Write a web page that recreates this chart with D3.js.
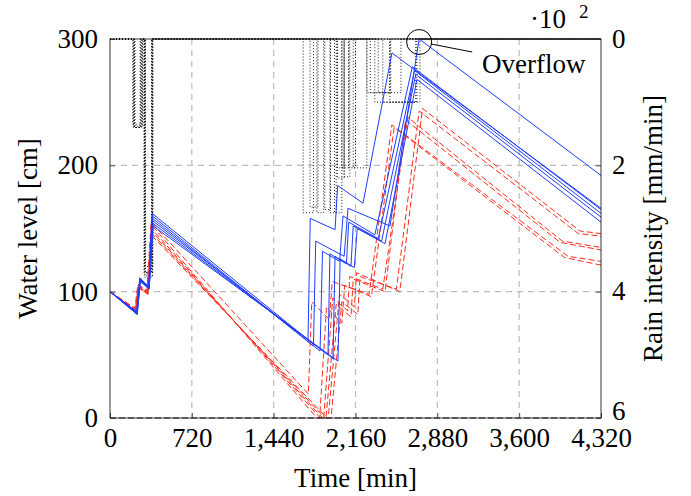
<!DOCTYPE html>
<html>
<head>
<meta charset="utf-8">
<script src="https://cdn.jsdelivr.net/npm/d3@7"></script>
<style>
  body { margin: 0; background: #fff; }
  svg text { font-family: "Liberation Serif", "Times New Roman", "DejaVu Serif", serif; fill: #000; }
</style>
</head>
<body>
<div id="chart"></div>
<script>
// ticks
const timeTicks = [0, 720, 1440, 2160, 2880, 3600, 4320];
const levelTicks = [0, 100, 200, 300];
const rainTicks = [0, 2, 4, 6];

// water level [cm], solid blue runs: [time, level]
const blue1 = [[0,100],[235,84],[262,111],[340,104],[370,162],[1742,62],[1762,158],[1980,149],[2003,184],[2226,170],[2481,289],[4320,166]];
const blue2 = [[0,100],[236,84],[263,110],[341,104],[372,160],[1790,57],[1810,140],[2060,128],[2094,166],[2463,152],[2720,300],[4320,192]];
const blue3 = [[0,100],[237,83],[264,110],[342,103],[374,158],[1848,53],[1870,132],[2020,124],[2050,160],[2330,145],[2660,278],[4320,165]];
const blue4 = [[0,100],[238,83],[265,109],[343,103],[376,156],[1918,50],[1935,130],[2080,122],[2100,155],[2360,142],[2680,275],[4320,162]];
const blue5 = [[0,100],[239,82],[266,109],[344,102],[378,154],[1962,47],[1980,128],[2120,120],[2140,152],[2390,140],[2690,272],[4320,159]];
const blue6 = [[0,100],[240,82],[267,108],[345,102],[380,152],[2006,45],[2025,126],[2150,119],[2175,150],[2420,138],[2700,268],[4320,155]];

// water level [cm], dashed red runs
const red1 = [[0,100],[220,87],[245,106],[325,101],[362,155],[1745,19],[1775,92],[1930,78],[1955,108],[2280,98],[2480,232],[4030,128],[4320,124]];
const red2 = [[0,100],[222,86],[248,105],[328,100],[364,153],[1820,0],[1845,0],[1905,88],[2040,75],[2065,105],[2300,96],[2500,230],[4000,127],[4320,121]];
const red3 = [[0,100],[224,86],[250,104],[330,99],[366,150],[1850,0],[1880,0],[1960,95],[2090,85],[2110,112],[2400,102],[2620,238],[3980,140],[4320,135]];
const red4 = [[0,100],[226,85],[252,104],[332,99],[368,148],[1870,0],[1900,0],[1990,90],[2120,80],[2140,110],[2420,100],[2600,236],[3960,139],[4320,133]];
const red5 = [[0,100],[228,85],[254,103],[334,98],[370,146],[1890,0],[1920,0],[2020,98],[2150,88],[2170,115],[2550,100],[2750,245],[4135,148],[4320,146]];
const red6 = [[0,100],[230,84],[256,103],[336,98],[372,144],[1910,0],[1945,0],[2040,92],[2180,82],[2200,112],[2520,102],[2720,243],[4120,146],[4320,144]];

// rain intensity [1e-2 mm/min], step series: [time, intensity]
const rain1 = [[0,0],[210,1.4],[265,0],[305,3.7],[365,0],[1700,2.75],[1790,0],[2000,2.2],[2060,0],[2260,0.85],[2460,0],[4320,0]];
const rain2 = [[0,0],[205,1.4],[280,0],[300,3.7],[370,0],[1760,2.66],[1830,0],[2040,2.04],[2100,0],[2463,1.0],[2727,0],[4320,0]];
const rain3 = [[0,0],[215,1.4],[270,0],[310,3.75],[372,0],[1820,2.75],[1880,0],[2000,2.04],[2060,0],[2290,0.85],[2470,0],[4320,0]];
const rain4 = [[0,0],[200,1.35],[285,0],[308,3.6],[378,0],[1890,2.7],[1940,0],[2060,2.18],[2110,0],[2330,1.0],[2690,0],[4320,0]];
const rain5 = [[0,0],[220,1.4],[275,0],[312,3.7],[368,0],[1935,2.75],[1990,0],[2100,2.04],[2160,0],[2360,0.85],[2560,0],[4320,0]];
const rain6 = [[0,0],[212,1.38],[290,0],[302,3.77],[375,0],[1975,2.75],[2040,0],[2140,2.04],[2260,0],[2400,1.0],[2700,0],[4320,0]];

const blueRuns = [blue1, blue2, blue3, blue4, blue5, blue6];
const redRuns = [red1, red2, red3, red4, red5, red6];
const rainRuns = [rain1, rain2, rain3, rain4, rain5, rain6];

const width = 691, height = 496;
const margin = { top: 39, left: 110, bottom: 78, right: 90 };
const iwidth = width - margin.left - margin.right;
const iheight = height - margin.top - margin.bottom;
const serif = '"Liberation Serif", "Times New Roman", "DejaVu Serif", serif';

const svg = d3.select("#chart").append("svg").attr("width", width).attr("height", height);
const g = svg.append("g").attr("transform", `translate(${margin.left},${margin.top})`);

const x = d3.scaleLinear().domain([0, 4320]).range([0, iwidth]);
const y = d3.scaleLinear().domain([0, 300]).range([iheight, 0]);
const yr = d3.scaleLinear().domain([0, 6]).range([0, iheight]);

// grid
const grid = g.append("g").attr("stroke", "#bcbcbc").attr("stroke-width", 1.2).attr("stroke-dasharray", "6,5");
grid.selectAll(".gx").data(timeTicks.slice(1, -1)).enter().append("line")
  .attr("x1", d => x(d)).attr("x2", d => x(d)).attr("y1", 0).attr("y2", iheight);
grid.selectAll(".gy").data(levelTicks.slice(1, -1)).enter().append("line")
  .attr("x1", 0).attr("x2", iwidth).attr("y1", d => y(d)).attr("y2", d => y(d));

// clip
svg.append("defs").append("clipPath").attr("id", "clip")
  .append("rect").attr("x", -1).attr("y", -1).attr("width", iwidth + 2).attr("height", iheight + 2);
const plot = g.append("g").attr("clip-path", "url(#clip)");

// rain
const rainLine = d3.line().x(d => x(d[0])).y(d => yr(d[1])).curve(d3.curveStepAfter);
plot.selectAll(".rain").data(rainRuns).enter().append("path")
  .attr("d", rainLine).attr("fill", "none").attr("stroke", "#000")
  .attr("stroke-width", 0.9).attr("stroke-dasharray", "1,2");

// water level
const levelLine = d3.line().x(d => x(d[0])).y(d => y(d[1]));
plot.selectAll(".red").data(redRuns).enter().append("path")
  .attr("d", levelLine).attr("fill", "none").attr("stroke", "#ff2a1a")
  .attr("stroke-width", 1).attr("stroke-dasharray", "6,3");
plot.selectAll(".blue").data(blueRuns).enter().append("path")
  .attr("d", levelLine).attr("fill", "none").attr("stroke", "#1f3dff")
  .attr("stroke-width", 1);

// axes
const fs = 27;
const ax = g.append("g").attr("transform", `translate(0,${iheight})`)
  .call(d3.axisBottom(x).tickValues(timeTicks).tickFormat(d3.format(",")).tickSizeInner(-5).tickSizeOuter(0).tickPadding(10));
const ay = g.append("g")
  .call(d3.axisLeft(y).tickValues(levelTicks).tickSizeInner(-5).tickSizeOuter(0).tickPadding(12));
const ar = g.append("g").attr("transform", `translate(${iwidth},0)`)
  .call(d3.axisRight(yr).tickValues(rainTicks).tickFormat(d3.format("d")).tickSizeInner(-5).tickSizeOuter(0).tickPadding(11));
[ax, ay, ar].forEach(a => {
  a.attr("font-family", serif);
  a.select(".domain").remove();
  a.selectAll(".tick line").attr("stroke", "#555");
  a.selectAll("text").attr("font-size", fs).attr("font-family", serif);
});
ar.selectAll("text").attr("dy", d => d === 6 ? "0.05em" : "0.3em");

// frame
g.append("rect").attr("width", iwidth).attr("height", iheight)
  .attr("fill", "none").attr("stroke", "#000").attr("stroke-width", 0.8);
g.append("line").attr("x1", 0).attr("x2", iwidth).attr("y1", iheight).attr("y2", iheight)
  .attr("stroke", "#444").attr("stroke-width", 1.4).attr("stroke-dasharray", "6,3");

const label = (sel) => sel.attr("font-family", serif).attr("font-size", fs);

// multiplier
svg.append("text").call(label).attr("x", 530).attr("y", 28).text("·10");
svg.append("text").call(label).attr("x", 579).attr("y", 18).attr("font-size", 19).text("2");

// overflow annotation
const ov = [2720, 300];
g.append("circle").attr("cx", x(ov[0])).attr("cy", y(ov[1]) + 3).attr("r", 12.5)
  .attr("fill", "none").attr("stroke", "#000").attr("stroke-width", 1);
g.append("line").attr("x1", x(ov[0]) + 12).attr("y1", y(ov[1]) + 5)
  .attr("x2", x(ov[0]) + 53).attr("y2", y(ov[1]) + 13)
  .attr("stroke", "#000").attr("stroke-width", 1);
svg.append("text").call(label).attr("x", 482).attr("y", 73).text("Overflow");

// labels
svg.append("text").call(label).attr("x", margin.left + iwidth / 2).attr("y", 487)
  .attr("text-anchor", "middle").text("Time [min]");
svg.append("text").call(label).attr("transform", `translate(37,${margin.top + iheight / 2}) rotate(-90)`)
  .attr("text-anchor", "middle").text("Water level [cm]");
svg.append("text").call(label).attr("transform", `translate(662,${margin.top + iheight / 2}) rotate(-90)`)
  .attr("text-anchor", "middle").text("Rain intensity [mm/min]");
</script>
</body>
</html>
